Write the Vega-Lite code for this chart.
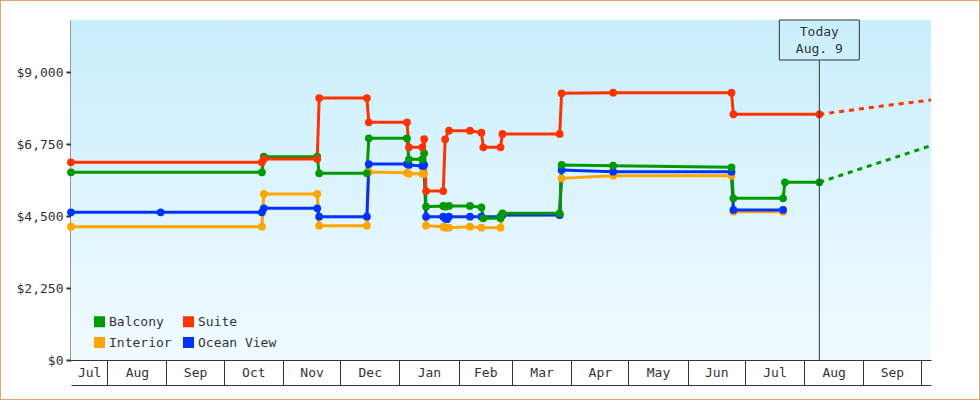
{
  "$schema": "https://vega.github.io/schema/vega-lite/v6.json",
  "width": 980,
  "height": 400,
  "autosize": {"type": "none"},
  "padding": 0,
  "background": "white",
  "datasets": {
    "prices": [
      {"date": "2012-07-13", "cabin": "Interior", "price": 4167},
      {"date": "2012-10-21", "cabin": "Interior", "price": 4167},
      {"date": "2012-10-22", "cabin": "Interior", "price": 5188},
      {"date": "2012-11-19", "cabin": "Interior", "price": 5188},
      {"date": "2012-11-20", "cabin": "Interior", "price": 4198},
      {"date": "2012-12-15", "cabin": "Interior", "price": 4198},
      {"date": "2012-12-16", "cabin": "Interior", "price": 5875},
      {"date": "2013-01-05", "cabin": "Interior", "price": 5854},
      {"date": "2013-01-06", "cabin": "Interior", "price": 5820},
      {"date": "2013-01-13", "cabin": "Interior", "price": 5820},
      {"date": "2013-01-14", "cabin": "Interior", "price": 5820},
      {"date": "2013-01-15", "cabin": "Interior", "price": 4198},
      {"date": "2013-01-24", "cabin": "Interior", "price": 4167},
      {"date": "2013-01-25", "cabin": "Interior", "price": 4135},
      {"date": "2013-01-27", "cabin": "Interior", "price": 4135},
      {"date": "2013-02-07", "cabin": "Interior", "price": 4167},
      {"date": "2013-02-13", "cabin": "Interior", "price": 4135},
      {"date": "2013-02-23", "cabin": "Interior", "price": 4135},
      {"date": "2013-02-24", "cabin": "Interior", "price": 4531},
      {"date": "2013-03-26", "cabin": "Interior", "price": 4531},
      {"date": "2013-03-27", "cabin": "Interior", "price": 5677},
      {"date": "2013-04-23", "cabin": "Interior", "price": 5760},
      {"date": "2013-06-24", "cabin": "Interior", "price": 5760},
      {"date": "2013-06-25", "cabin": "Interior", "price": 4635},
      {"date": "2013-07-21", "cabin": "Interior", "price": 4635},
      {"date": "2012-07-13", "cabin": "Ocean View", "price": 4615},
      {"date": "2012-08-29", "cabin": "Ocean View", "price": 4615},
      {"date": "2012-10-21", "cabin": "Ocean View", "price": 4615},
      {"date": "2012-10-22", "cabin": "Ocean View", "price": 4740},
      {"date": "2012-11-19", "cabin": "Ocean View", "price": 4740},
      {"date": "2012-11-20", "cabin": "Ocean View", "price": 4479},
      {"date": "2012-12-15", "cabin": "Ocean View", "price": 4479},
      {"date": "2012-12-16", "cabin": "Ocean View", "price": 6125},
      {"date": "2013-01-05", "cabin": "Ocean View", "price": 6125},
      {"date": "2013-01-06", "cabin": "Ocean View", "price": 6094},
      {"date": "2013-01-13", "cabin": "Ocean View", "price": 6063},
      {"date": "2013-01-14", "cabin": "Ocean View", "price": 6094},
      {"date": "2013-01-15", "cabin": "Ocean View", "price": 4479},
      {"date": "2013-01-24", "cabin": "Ocean View", "price": 4479},
      {"date": "2013-01-25", "cabin": "Ocean View", "price": 4420},
      {"date": "2013-01-26", "cabin": "Ocean View", "price": 4400},
      {"date": "2013-01-27", "cabin": "Ocean View", "price": 4479},
      {"date": "2013-02-07", "cabin": "Ocean View", "price": 4479},
      {"date": "2013-02-13", "cabin": "Ocean View", "price": 4479},
      {"date": "2013-02-23", "cabin": "Ocean View", "price": 4479},
      {"date": "2013-02-24", "cabin": "Ocean View", "price": 4531},
      {"date": "2013-03-26", "cabin": "Ocean View", "price": 4531},
      {"date": "2013-03-27", "cabin": "Ocean View", "price": 5938},
      {"date": "2013-04-23", "cabin": "Ocean View", "price": 5885},
      {"date": "2013-06-24", "cabin": "Ocean View", "price": 5885},
      {"date": "2013-06-25", "cabin": "Ocean View", "price": 4688},
      {"date": "2013-07-21", "cabin": "Ocean View", "price": 4688},
      {"date": "2012-07-13", "cabin": "Balcony", "price": 5865},
      {"date": "2012-10-21", "cabin": "Balcony", "price": 5865},
      {"date": "2012-10-22", "cabin": "Balcony", "price": 6354},
      {"date": "2012-11-19", "cabin": "Balcony", "price": 6354},
      {"date": "2012-11-20", "cabin": "Balcony", "price": 5833},
      {"date": "2012-12-15", "cabin": "Balcony", "price": 5833},
      {"date": "2012-12-16", "cabin": "Balcony", "price": 6927},
      {"date": "2013-01-05", "cabin": "Balcony", "price": 6927},
      {"date": "2013-01-06", "cabin": "Balcony", "price": 6271},
      {"date": "2013-01-13", "cabin": "Balcony", "price": 6271},
      {"date": "2013-01-14", "cabin": "Balcony", "price": 6458},
      {"date": "2013-01-15", "cabin": "Balcony", "price": 4792},
      {"date": "2013-01-24", "cabin": "Balcony", "price": 4813},
      {"date": "2013-01-25", "cabin": "Balcony", "price": 4792},
      {"date": "2013-01-27", "cabin": "Balcony", "price": 4813},
      {"date": "2013-02-07", "cabin": "Balcony", "price": 4813},
      {"date": "2013-02-13", "cabin": "Balcony", "price": 4771},
      {"date": "2013-02-14", "cabin": "Balcony", "price": 4427},
      {"date": "2013-02-23", "cabin": "Balcony", "price": 4427},
      {"date": "2013-02-24", "cabin": "Balcony", "price": 4583},
      {"date": "2013-03-26", "cabin": "Balcony", "price": 4583},
      {"date": "2013-03-27", "cabin": "Balcony", "price": 6094},
      {"date": "2013-04-23", "cabin": "Balcony", "price": 6073},
      {"date": "2013-06-24", "cabin": "Balcony", "price": 6021},
      {"date": "2013-06-25", "cabin": "Balcony", "price": 5052},
      {"date": "2013-07-21", "cabin": "Balcony", "price": 5052},
      {"date": "2013-07-22", "cabin": "Balcony", "price": 5552},
      {"date": "2013-08-09", "cabin": "Balcony", "price": 5552},
      {"date": "2012-07-13", "cabin": "Suite", "price": 6178},
      {"date": "2012-10-21", "cabin": "Suite", "price": 6178},
      {"date": "2012-10-22", "cabin": "Suite", "price": 6281},
      {"date": "2012-11-19", "cabin": "Suite", "price": 6281},
      {"date": "2012-11-20", "cabin": "Suite", "price": 8187},
      {"date": "2012-12-15", "cabin": "Suite", "price": 8187},
      {"date": "2012-12-16", "cabin": "Suite", "price": 7427},
      {"date": "2013-01-05", "cabin": "Suite", "price": 7427},
      {"date": "2013-01-06", "cabin": "Suite", "price": 6646},
      {"date": "2013-01-13", "cabin": "Suite", "price": 6646},
      {"date": "2013-01-14", "cabin": "Suite", "price": 6906},
      {"date": "2013-01-15", "cabin": "Suite", "price": 5281},
      {"date": "2013-01-24", "cabin": "Suite", "price": 5281},
      {"date": "2013-01-25", "cabin": "Suite", "price": 6896},
      {"date": "2013-01-27", "cabin": "Suite", "price": 7166},
      {"date": "2013-02-07", "cabin": "Suite", "price": 7166},
      {"date": "2013-02-13", "cabin": "Suite", "price": 7104},
      {"date": "2013-02-14", "cabin": "Suite", "price": 6646},
      {"date": "2013-02-23", "cabin": "Suite", "price": 6646},
      {"date": "2013-02-24", "cabin": "Suite", "price": 7063},
      {"date": "2013-03-26", "cabin": "Suite", "price": 7063},
      {"date": "2013-03-27", "cabin": "Suite", "price": 8333},
      {"date": "2013-04-23", "cabin": "Suite", "price": 8354},
      {"date": "2013-06-24", "cabin": "Suite", "price": 8354},
      {"date": "2013-06-25", "cabin": "Suite", "price": 7677},
      {"date": "2013-08-09", "cabin": "Suite", "price": 7677}
    ],
    "forecast": [
      {"date": "2013-08-09", "cabin": "Balcony", "price": 5552},
      {"date": "2013-10-06T12:00:00Z", "cabin": "Balcony", "price": 6700},
      {"date": "2013-08-09", "cabin": "Suite", "price": 7677},
      {"date": "2013-09-15", "cabin": "Suite", "price": 7969},
      {"date": "2013-10-06T12:00:00Z", "cabin": "Suite", "price": 8125}
    ],
    "today": [
      {"date": "2013-08-09", "label": "Today\nAug. 9"}
    ]
  },
  "layer": [
    {
      "data": {"values": [{}]},
      "mark": {
        "type": "rect",
        "fill": {
          "gradient": "linear",
          "x1": 0, "y1": 0, "x2": 0, "y2": 1,
          "stops": [
            {"offset": 0, "color": "#c9eefc"},
            {"offset": 1, "color": "#f1fbff"}
          ]
        }
      },
      "encoding": {
        "x": {
          "datum": {"year": 2012, "month": 7, "date": 13, "utc": true},
          "type": "temporal",
          "scale": {
            "type": "utc",
            "domain": [
              {"year": 2012, "month": 7, "date": 13, "utc": true},
              {"year": 2013, "month": 10, "date": 6, "hours": 12, "utc": true}
            ],
            "range": [71, 931],
            "nice": false
          },
          "axis": {
            "orient": "bottom",
            "offset": -40,
            "title": null,
            "labels": false,
            "tickSize": 25,
            "values": [
              {"year": 2012, "month": 8, "date": 1, "utc": true},
              {"year": 2012, "month": 9, "date": 1, "utc": true},
              {"year": 2012, "month": 10, "date": 1, "utc": true},
              {"year": 2012, "month": 11, "date": 1, "utc": true},
              {"year": 2012, "month": 12, "date": 1, "utc": true},
              {"year": 2013, "month": 1, "date": 1, "utc": true},
              {"year": 2013, "month": 2, "date": 1, "utc": true},
              {"year": 2013, "month": 3, "date": 1, "utc": true},
              {"year": 2013, "month": 4, "date": 1, "utc": true},
              {"year": 2013, "month": 5, "date": 1, "utc": true},
              {"year": 2013, "month": 6, "date": 1, "utc": true},
              {"year": 2013, "month": 7, "date": 1, "utc": true},
              {"year": 2013, "month": 8, "date": 1, "utc": true},
              {"year": 2013, "month": 9, "date": 1, "utc": true},
              {"year": 2013, "month": 10, "date": 1, "utc": true}
            ]
          }
        },
        "x2": {"datum": {"year": 2013, "month": 10, "date": 6, "hours": 12, "utc": true}},
        "y": {
          "datum": 0,
          "type": "quantitative",
          "scale": {"domain": [0, 10625], "range": [360, 20], "nice": false, "zero": false},
          "axis": null
        },
        "y2": {"datum": 10625}
      }
    },
    {
      "data": {"name": "forecast"},
      "mark": {"type": "line", "strokeWidth": 3, "strokeDash": [5, 5]},
      "encoding": {
        "x": {"field": "date", "type": "temporal", "scale": {"type": "utc"}, "axis": null},
        "y": {"field": "price", "type": "quantitative", "axis": null},
        "color": {
          "field": "cabin", "type": "nominal", "legend": null,
          "scale": {"domain": ["Balcony", "Interior", "Suite", "Ocean View"], "range": ["#009900", "#ffa500", "#ff3300", "#0033ff"]}
        }
      }
    },
    {
      "data": {"name": "prices"},
      "mark": {"type": "line", "strokeWidth": 3},
      "encoding": {
        "x": {
          "field": "date",
          "type": "temporal",
          "scale": {"type": "utc"},
          "axis": {
            "orient": "bottom",
            "offset": -15,
            "title": null,
            "ticks": false,
            "tickSize": 0,
            "labelPadding": -12.5,
            "labelBaseline": "middle",
            "labelFlush": false,
            "labelOverlap": false,
            "labelExpr": "utcFormat(datum.value, '%b')",
            "values": [
              {"year": 2012, "month": 7, "date": 22, "hours": 12, "utc": true},
              {"year": 2012, "month": 8, "date": 16, "hours": 12, "utc": true},
              {"year": 2012, "month": 9, "date": 16, "utc": true},
              {"year": 2012, "month": 10, "date": 16, "hours": 12, "utc": true},
              {"year": 2012, "month": 11, "date": 16, "utc": true},
              {"year": 2012, "month": 12, "date": 16, "hours": 12, "utc": true},
              {"year": 2013, "month": 1, "date": 16, "hours": 12, "utc": true},
              {"year": 2013, "month": 2, "date": 15, "utc": true},
              {"year": 2013, "month": 3, "date": 16, "hours": 12, "utc": true},
              {"year": 2013, "month": 4, "date": 16, "utc": true},
              {"year": 2013, "month": 5, "date": 16, "hours": 12, "utc": true},
              {"year": 2013, "month": 6, "date": 16, "utc": true},
              {"year": 2013, "month": 7, "date": 16, "hours": 12, "utc": true},
              {"year": 2013, "month": 8, "date": 16, "hours": 12, "utc": true},
              {"year": 2013, "month": 9, "date": 16, "utc": true}
            ]
          }
        },
        "y": {
          "field": "price",
          "type": "quantitative",
          "axis": {
            "orient": "left",
            "offset": -71,
            "title": null,
            "values": [0, 2250, 4500, 6750, 9000],
            "format": "$,.0f",
            "tickSize": 5,
            "tickWidth": 2,
            "domainWidth": 2,
            "labelPadding": 3
          }
        },
        "color": {
          "field": "cabin", "type": "nominal", "legend": null,
          "scale": {"domain": ["Balcony", "Interior", "Suite", "Ocean View"], "range": ["#009900", "#ffa500", "#ff3300", "#0033ff"]}
        }
      }
    },
    {
      "data": {"name": "prices"},
      "mark": {"type": "point", "shape": "circle", "filled": true, "size": 60, "opacity": 1},
      "encoding": {
        "x": {"field": "date", "type": "temporal", "scale": {"type": "utc"}, "axis": null},
        "y": {"field": "price", "type": "quantitative", "axis": null},
        "color": {
          "field": "cabin", "type": "nominal",
          "scale": {"domain": ["Balcony", "Interior", "Suite", "Ocean View"], "range": ["#009900", "#ffa500", "#ff3300", "#0033ff"]},
          "legend": {
            "orient": "none",
            "legendX": 93,
            "legendY": 315,
            "columns": 2,
            "title": null,
            "padding": 0,
            "symbolType": "square",
            "symbolSize": 121,
            "symbolStrokeWidth": 0,
            "symbolOpacity": 1,
            "labelFont": "DejaVu Sans Mono",
            "labelFontSize": 13,
            "labelColor": "#333",
            "labelOffset": 3,
            "columnPadding": 10,
            "rowPadding": 7,
            "zindex": 1
          }
        }
      }
    },
    {
      "data": {"name": "today"},
      "mark": {"type": "rule", "color": "#333", "strokeWidth": 1},
      "encoding": {
        "x": {"field": "date", "type": "temporal", "scale": {"type": "utc"}, "axis": null},
        "y": {"datum": 0, "type": "quantitative", "axis": null},
        "y2": {"datum": 9375}
      }
    },
    {
      "data": {"name": "today"},
      "mark": {"type": "point", "shape": "M-1,-0.5H1V0.5H-1Z", "size": 6400, "filled": false, "stroke": "#333", "strokeWidth": 1, "opacity": 1},
      "encoding": {
        "x": {"field": "date", "type": "temporal", "scale": {"type": "utc"}, "axis": null},
        "y": {"datum": 10000, "type": "quantitative", "axis": null}
      }
    },
    {
      "data": {"name": "today"},
      "mark": {"type": "text", "lineBreak": "\n", "lineHeight": 17, "font": "DejaVu Sans Mono", "fontSize": 13, "color": "#333", "baseline": "middle", "align": "center", "dy": -8},
      "encoding": {
        "x": {"field": "date", "type": "temporal", "scale": {"type": "utc"}, "axis": null},
        "y": {"datum": 10000, "type": "quantitative", "axis": null},
        "text": {"field": "label"}
      }
    }
  ],
  "resolve": {
    "axis": {"x": "independent", "y": "independent"},
    "legend": {"color": "independent"}
  },
  "config": {
    "font": "DejaVu Sans Mono",
    "view": {"stroke": "#e6a86a", "strokeWidth": 2, "fill": "white"},
    "axis": {
      "grid": false,
      "zindex": 1,
      "labelFont": "DejaVu Sans Mono",
      "labelFontSize": 13,
      "labelColor": "#333",
      "domainColor": "#333",
      "tickColor": "#333"
    }
  }
}
